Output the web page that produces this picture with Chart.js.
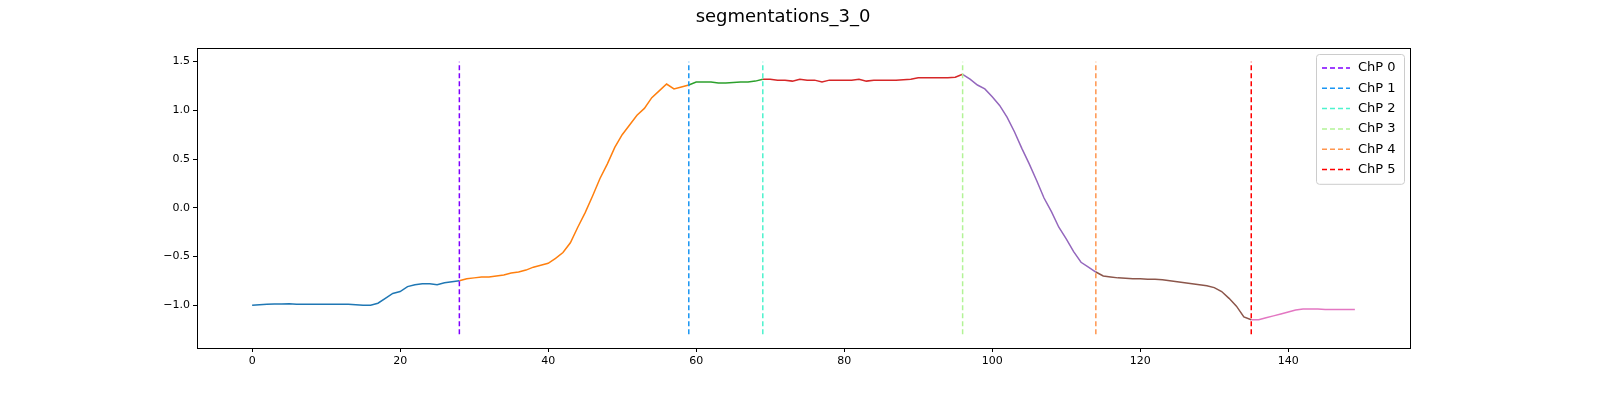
<!DOCTYPE html>
<html lang="en">
<head>
    <meta charset="UTF-8">
    <title>segmentations_3_0</title>
    <style>
        body, html { margin: 0; background: white; overflow: hidden; }
        #wrap { width: 1600px; height: 400px; }
        canvas { display: block; }
    </style>
    <script src="https://cdn.jsdelivr.net/npm/chart.js"></script>
</head>
<body>
    <div id="wrap"><canvas id="chart" width="1600" height="400"></canvas></div>
    <script>
        const title = 'segmentations_3_0';

        // signal values, index 0..149
        const signal = [
            -1.0, -0.995, -0.99, -0.988, -0.987, -0.985, -0.99, -0.99, -0.992, -0.992,
            -0.99, -0.99, -0.992, -0.99, -0.995, -1.0, -1.0, -0.98, -0.93, -0.88,
            -0.86, -0.81, -0.79, -0.78, -0.78, -0.79, -0.77, -0.76, -0.75, -0.73,
            -0.72, -0.71, -0.71, -0.70, -0.69, -0.67, -0.66, -0.64, -0.61, -0.59,
            -0.57, -0.52, -0.46, -0.36, -0.20, -0.05, 0.12, 0.30, 0.45, 0.62,
            0.75, 0.85, 0.95, 1.02, 1.13, 1.20, 1.27, 1.22, 1.24, 1.26,
            1.29, 1.29, 1.29, 1.28, 1.28, 1.285, 1.29, 1.29, 1.30, 1.32,
            1.32, 1.31, 1.31, 1.30, 1.32, 1.31, 1.31, 1.29, 1.31, 1.31,
            1.31, 1.31, 1.32, 1.30, 1.31, 1.31, 1.31, 1.31, 1.315, 1.32,
            1.335, 1.335, 1.335, 1.335, 1.335, 1.34, 1.37, 1.32, 1.26, 1.22,
            1.14, 1.05, 0.93, 0.78, 0.61, 0.45, 0.28, 0.10, -0.04, -0.20,
            -0.32, -0.45, -0.56, -0.61, -0.66, -0.70, -0.71, -0.72, -0.725, -0.73,
            -0.73, -0.735, -0.735, -0.74, -0.75, -0.76, -0.77, -0.78, -0.79, -0.80,
            -0.82, -0.86, -0.93, -1.01, -1.12, -1.15, -1.15, -1.13, -1.11, -1.09,
            -1.07, -1.05, -1.04, -1.04, -1.04, -1.045, -1.045, -1.045, -1.045, -1.045
        ];

        const changePoints = [28, 59, 69, 96, 114, 135];
        const cpLabels = ['ChP 0', 'ChP 1', 'ChP 2', 'ChP 3', 'ChP 4', 'ChP 5'];
        const cpColors = ['#8000ff', '#1996f3', '#4df3ce', '#b2f396', '#ff964f', '#ff0000'];
        const segColors = ['#1f77b4', '#ff7f0e', '#2ca02c', '#d62728', '#9467bd', '#8c564b', '#e377c2'];
        const cpYRange = [-1.3, 1.5];
        const yTicks = [-1.0, -0.5, 0.0, 0.5, 1.0, 1.5];
        const xTicks = [0, 20, 40, 60, 80, 100, 120, 140];

        const datasets = [];
        const bounds = [0].concat(changePoints, [signal.length - 1]);
        for (let s = 0; s < bounds.length - 1; s++) {
            const pts = [];
            for (let i = bounds[s]; i <= bounds[s + 1]; i++) pts.push({x: i, y: signal[i]});
            datasets.push({ label: 'seg' + s, data: pts, borderColor: segColors[s], borderWidth: 1.5,
                pointRadius: 0, tension: 0, order: 2 });
        }
        changePoints.forEach((cp, k) => {
            datasets.push({ label: cpLabels[k], data: [{x: cp, y: cpYRange[0]}, {x: cp, y: cpYRange[1]}],
                borderColor: cpColors[k], borderWidth: 1.5, borderDash: [5, 3], pointRadius: 0, order: 1, isCp: true });
        });

        // title, axes box and in-plot legend drawn by hand (matplotlib style)
        const decor = {
            id: 'decor',
            afterDraw(chart) {
                const ctx = chart.ctx, area = chart.chartArea;
                ctx.save();
                ctx.strokeStyle = 'black';
                ctx.lineWidth = 1;
                ctx.strokeRect(area.left + 0.5, area.top + 0.5, area.right - area.left, area.bottom - area.top);
                ctx.fillStyle = 'black';
                ctx.font = '18px "DejaVu Sans"';
                ctx.textAlign = 'center';
                ctx.textBaseline = 'middle';
                ctx.fillText(title, 783, 17);
                const items = chart.data.datasets.filter(d => d.isCp);
                const w = 88, rowH = 20.3, x0 = area.right - w - 6, y0 = area.top + 6;
                const h = items.length * rowH + 8;
                ctx.fillStyle = 'rgba(255,255,255,0.8)';
                ctx.strokeStyle = '#cccccc';
                ctx.beginPath();
                ctx.roundRect(x0 + 0.5, y0 + 0.5, w, h, 3);
                ctx.fill(); ctx.stroke();
                ctx.font = '13px "DejaVu Sans"';
                ctx.textAlign = 'left';
                items.forEach((d, k) => {
                    const y = y0 + 14 + k * rowH;
                    ctx.strokeStyle = d.borderColor;
                    ctx.lineWidth = 1.5;
                    ctx.setLineDash([5, 3]);
                    ctx.beginPath(); ctx.moveTo(x0 + 6, y); ctx.lineTo(x0 + 34, y); ctx.stroke();
                    ctx.setLineDash([]);
                    ctx.fillStyle = 'black';
                    ctx.fillText(d.label, x0 + 42, y);
                });
                ctx.restore();
            }
        };

        new Chart(document.getElementById('chart'), {
            type: 'line',
            data: { datasets: datasets },
            plugins: [decor],
            options: {
                responsive: false,
                animation: false,
                devicePixelRatio: 1,
                layout: { padding: { top: 48, right: 190, left: 0, bottom: 0 } },
                plugins: { legend: { display: false }, tooltip: { enabled: false } },
                scales: {
                    x: {
                        type: 'linear', min: -7.45, max: 156.45,
                        afterBuildTicks: ax => { ax.ticks = xTicks.map(v => ({value: v})); },
                        afterFit: ax => { ax.height = 52; },
                        grid: { drawOnChartArea: false, color: 'black', tickLength: 4 },
                        border: { color: 'black' },
                        ticks: { color: 'black', font: { family: 'DejaVu Sans', size: 11 }, maxRotation: 0,
                            callback: v => String(v) }
                    },
                    y: {
                        min: -1.44, max: 1.64,
                        afterBuildTicks: ax => { ax.ticks = yTicks.map(v => ({value: v})); },
                        afterFit: ax => { ax.width = 197; },
                        grid: { drawOnChartArea: false, color: 'black', tickLength: 4 },
                        border: { color: 'black' },
                        ticks: { color: 'black', font: { family: 'DejaVu Sans', size: 11 },
                            callback: v => (v < 0 ? '\u2212' : '') + Math.abs(v).toFixed(1) }
                    }
                }
            }
        });
    </script>
</body>
</html>
